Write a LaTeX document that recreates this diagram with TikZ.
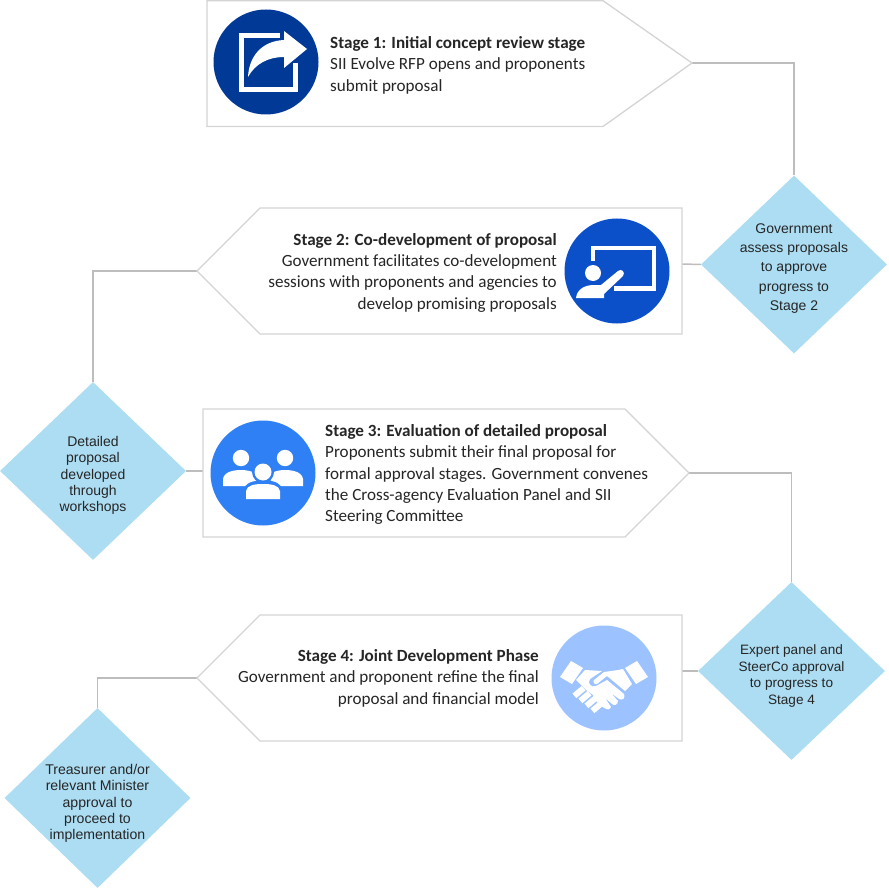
\documentclass[tikz,border=0pt]{standalone}
\usepackage{fontspec}
\setmainfont{Carlito}
\newfontfamily\gatefont{Liberation Sans}
\usetikzlibrary{shapes.geometric}
\definecolor{boxline}{HTML}{D4D4D4}
\definecolor{linkline}{HTML}{BDBDBD}
\definecolor{dia}{HTML}{ACDDF2}
\definecolor{txt}{HTML}{262626}
\definecolor{ic1}{HTML}{003A96}
\definecolor{ic2}{HTML}{0B50C8}
\definecolor{ic3}{HTML}{2F80F5}
\definecolor{ic4}{HTML}{9CC2FF}
\tikzset{
  stagebox/.style={draw=boxline,line width=1.3pt,fill=white,line join=miter},
  link/.style={draw=linkline,line width=1.5pt},
  gate/.style={diamond,fill=dia,draw=none,inner sep=0pt,aspect=1,shape aspect=1},
  gatetext/.style={align=center,font=\gatefont\fontsize{14}{16.3}\selectfont,text=txt,inner sep=0pt},
  ltext/.style={align=left,anchor=north west,font=\fontsize{17.1}{21.4}\selectfont,text=txt,inner sep=0pt},
  rtext/.style={align=right,anchor=north east,font=\fontsize{17.1}{21.4}\selectfont,text=txt,inner sep=0pt},
  iconw/.style={fill=white,draw=none},
  iconl/.style={draw=white,fill=none,line width=4.5pt}
}
\begin{document}
\begin{tikzpicture}[x=1pt,y=-1pt]
\useasboundingbox (0,0) rectangle (888,890);
\coordinate (t1) at (692,63);
\coordinate (t2) at (197,271);
\coordinate (t3) at (689,473);
\coordinate (t4) at (197,678);
\coordinate (e2) at (682,264);
\coordinate (e3) at (203,471);
\coordinate (e4) at (682,671);
\node[gate,minimum width=186pt,minimum height=178pt] (d1) at (794,264.5) {};
\node[gate,minimum width=186pt,minimum height=178pt] (d2) at (93,471) {};
\node[gate,minimum width=187pt,minimum height=178pt] (d3) at (791.5,671) {};
\node[gate,minimum width=186pt,minimum height=180pt] (d4) at (97.5,798) {};
\draw[link] (t1) -| (d1.north);
\draw[link] (d1.west) -- (e2);
\draw[link] (t2) -| (d2.north);
\draw[link] (d2.east) -- (e3);
\draw[link] (t3) -| (d3.north);
\draw[link] (d3.west) -- (e4);
\draw[link] (t4) -| (d4.north);
\draw[stagebox] (207,0.7) -- (603,0.7) -- (t1) -- (603,126.5) -- (207,126.5) -- cycle;
\draw[stagebox] (682,208) -- (682,334) -- (260,334) -- (t2) -- (260,208) -- cycle;
\draw[stagebox] (203,409) -- (625,409) -- (t3) -- (625,537) -- (203,537) -- cycle;
\draw[stagebox] (682,615) -- (682,741) -- (260,741) -- (t4) -- (260,615) -- cycle;
\node[gatetext,font=\gatefont\fontsize{14}{19.3}\selectfont] (g1) at ([yshift=-4pt]d1.center) {Government\\assess proposals\\to approve\\progress to\\Stage 2};
\node[gatetext] (g2) at ([yshift=-4.5pt]d2.center) {Detailed\\proposal\\developed\\through\\workshops};
\node[gatetext,font=\gatefont\fontsize{13.6}{16.7}\selectfont] (g3) at ([yshift=-5pt]d3.center) {Expert panel and\\SteerCo approval\\to progress to\\Stage 4};
\node[gatetext,font=\gatefont\fontsize{14.1}{16.3}\selectfont] (g4) at ([yshift=-5.5pt]d4.center) {Treasurer and/or\\relevant Minister\\approval to\\proceed to\\implementation};
\node[ltext] (s1) at (330,36) {\textbf{Stage 1: Initial concept review stage}\\SII Evolve RFP opens and proponents\\submit proposal};
\node[rtext] (s2) at (557,233) {\textbf{Stage 2: Co-development of proposal}\\Government facilitates co-development\\sessions with proponents and agencies to\\develop promising proposals};
\node[ltext] (s3) at (325,424) {\textbf{Stage 3: Evaluation of detailed proposal}\\Proponents submit their final proposal for\\formal approval stages. Government convenes\\the Cross-agency Evaluation Panel and SII\\Steering Committee};
\node[rtext] (s4) at (539,649) {\textbf{Stage 4: Joint Development Phase}\\Government and proponent refine the final\\proposal and financial model};
% icon 1
\fill[ic1] (266,62) circle (52.5);
\draw[iconl,line width=5pt,line cap=butt] (280,36) -- (241,36) -- (241,89.5) -- (295.5,89.5) -- (295.5,63);
\fill[iconw] (307,49) -- (284,31) -- (284,40) .. controls (262,41) and (249,56) .. (248,77) .. controls (255,64) and (268,57) .. (284,57) -- (284,68) -- cycle;
% icon 2
\fill[ic2] (617,271) circle (52.5);
\draw[iconl,line cap=butt] (593,261) -- (593,248) -- (654,248) -- (654,288.5) -- (614,288.5);
\fill[iconw] (593,273) circle (8);
\fill[iconw] (576,298) .. controls (577,289) and (585,285) .. (594,285) -- (601,285) -- (618,271) .. controls (621,268) and (626,272) .. (623,276) -- (604,294) -- (604,298) -- cycle;
% icon 3
\fill[ic3] (263,473) circle (52.5);
\foreach \cx/\cy/\r in {241/458/8.2,285/458/8.2}
  \fill[iconw] (\cx,\cy) circle (\r);
\fill[iconw] (223,486) -- (223,479) .. controls (224,472) and (233,470) .. (241,470) .. controls (246,470) and (251,471) .. (255,473) .. controls (256,478) and (258,481) .. (255,481) .. controls (249,482) and (247,484) .. (245,486) -- cycle;
\fill[iconw] (303,486) -- (303,479) .. controls (302,472) and (293,470) .. (285,470) .. controls (280,470) and (275,471) .. (272,473) .. controls (271,478) and (269,481) .. (272,481) .. controls (277,482) and (279,484) .. (281,486) -- cycle;
\fill[ic3] (263,472) circle (11);
\fill[iconw] (263,472) circle (8.5);
\fill[iconw] (246,499) -- (246,491) .. controls (247,485) and (255,484) .. (263,484) .. controls (271,484) and (279,485) .. (280,491) -- (280,499) -- cycle;
% icon 4
\fill[ic4] (604,678) circle (52.5);
\fill[iconw] (560,677) -- (571,661) -- (583,668) -- (572,684) -- cycle;
\fill[iconw] (648,677) -- (637,661) -- (625,668) -- (636,684) -- cycle;
\fill[iconw] (576,680) -- (585,670) -- (602,671) -- (590,679) .. controls (587,683) and (591,688) .. (596,686) -- (607,680) -- (624,694) .. controls (626,698) and (622,701) .. (619,699) -- (611,693) -- (618,701) .. controls (618,705) and (614,706) .. (612,704) -- (605,698) -- (611,707) .. controls (610,710) and (606,710) .. (604,708) -- (597,702) -- (593,695) -- (586,690) -- cycle;
\fill[iconw] (594,680) -- (604,672) -- (618,670) -- (623,669) -- (632,684) -- (625,691) -- (607,676) -- (597,684) .. controls (595,685) and (592,682) .. (594,680) -- cycle;
\foreach \a/\b in {579/692,585/697,591/702,597/707}
  \fill[iconw,rotate around={40:(\a,\b)}] (\a-6,\b-3) rectangle (\a+6,\b+3);
\end{tikzpicture}
\end{document}
